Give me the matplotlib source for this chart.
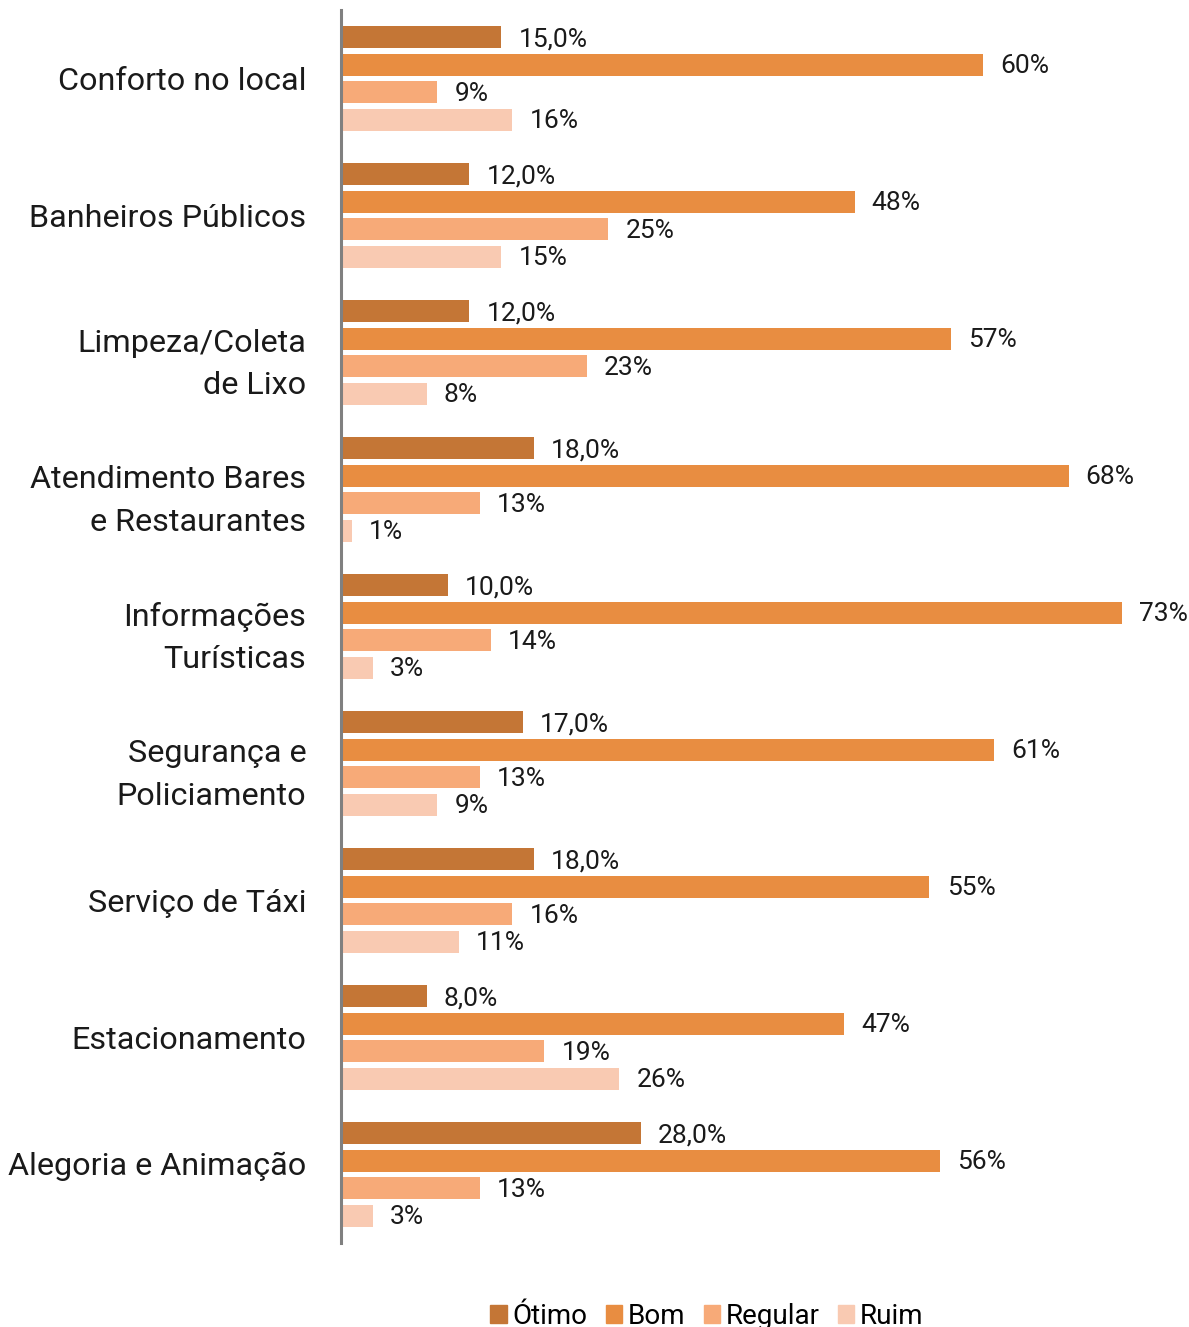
import matplotlib
matplotlib.use("Agg")
from matplotlib import pyplot as plt
from matplotlib.patches import Patch
from matplotlib.transforms import ScaledTranslation
import numpy as np

plt.rcParams['font.family'] = ['Roboto', 'DejaVu Sans']

categorias = ["Conforto no local", "Banheiros Públicos", "Limpeza/Coleta\nde Lixo",
              "Atendimento Bares\ne Restaurantes", "Informações\nTurísticas",
              "Segurança e\nPoliciamento", "Serviço de Táxi", "Estacionamento",
              "Alegoria e Animação"]
otimo = [15, 12, 12, 18, 10, 17, 18, 8, 28]
bom = [60, 48, 57, 68, 73, 61, 55, 47, 56]
regular = [9, 25, 23, 13, 14, 13, 16, 19, 13]
ruim = [16, 15, 8, 1, 3, 9, 11, 26, 3]

series = [("Ótimo", otimo, "#C47636", "{:.1f}%"),
          ("Bom", bom, "#E88D41", "{:.0f}%"),
          ("Regular", regular, "#F7AA78", "{:.0f}%"),
          ("Ruim", ruim, "#F9CAB2", "{:.0f}%")]

fig = plt.figure(figsize=(11.89, 13.27), dpi=100)
ax = fig.add_axes([341/1189, 84/1327, 1 - 341/1189, 1233/1327])

y = np.arange(len(categorias))
offsets = [-0.3, -0.1, 0.1, 0.3]
for (nome, vals, cor, fmt), off in zip(series, offsets):
    bars = ax.barh(y + off, vals, height=0.16, color=cor, label=nome)
    for b, v in zip(bars, vals):
        txt = fmt.format(v).replace(".", ",")
        ax.text(v + 1.6, b.get_y() + b.get_height()/2 + 0.012, txt, va="center", ha="left",
                fontsize=19, color="#1a1a1a")

ax.set_xlim(0, (1189 - 341) / 10.7)
ax.set_ylim(8.5, -0.5)
ax.set_yticks(y)
ax.set_yticklabels(categorias, fontsize=23.3, linespacing=1.58, color="#1a1a1a")
ax.tick_params(axis="y", length=0, pad=25)
ax.set_xticks([])
for s in ["top", "right", "bottom"]:
    ax.spines[s].set_visible(False)
ax.spines["left"].set_color("#808080")
ax.spines["left"].set_linewidth(2.2)

# os rótulos de duas linhas ficam um pouco mais baixos; o último sobe um pouco
for i, lbl in enumerate(ax.get_yticklabels()):
    dy = 0
    if "\n" in categorias[i]:
        dy = -2
    if i == len(categorias) - 1:
        dy = 11
    lbl.set_transform(lbl.get_transform() + ScaledTranslation(0, dy / 100, fig.dpi_scale_trans))

handles = [Patch(color=c, label=n) for n, _, c, _ in series]
fig.legend(handles=handles, loc="center", bbox_to_anchor=(707/1189, 11/1327), ncol=4,
           frameon=False, fontsize=20, handlelength=0.6, handleheight=0.6,
           handletextpad=0.2, columnspacing=0.65)

fig.savefig("out.png", dpi=100)
